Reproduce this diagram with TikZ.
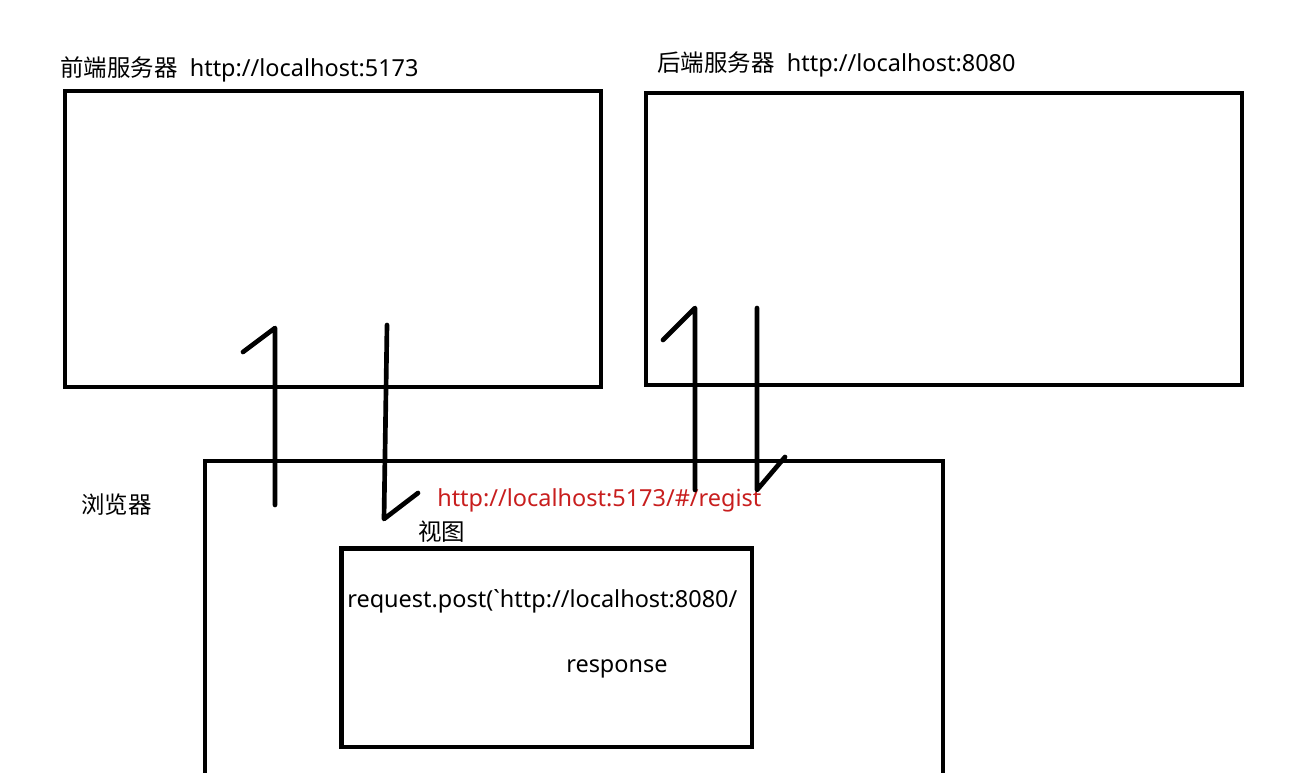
\documentclass[tikz,border=0pt]{standalone}
\usepackage{fontspec}
\setmainfont{Noto Sans}
\newfontfamily\cjk{Noto Sans CJK SC}
\begin{document}
\begin{tikzpicture}[x=0.75pt,y=-0.75pt,
    caja/.style={draw, line width=3.5pt, inner sep=0pt},
    trazo/.style={line width=3.5pt, line cap=round, line join=round},
    texto/.style={anchor=west, inner sep=0pt, font=\fontsize{17.6}{20}\selectfont}]
    \useasboundingbox (0,0) rectangle (1292,773);

    % Servidores
    \node[caja, minimum width=402pt, minimum height=222pt] (front) at (333,239) {};
    \node[caja, minimum width=447pt, minimum height=219pt] (back) at (944,239) {};
    \node[texto] (tfront) at (60,69) {{\cjk 前端服务器}\ \ http://localhost:5173};
    \node[texto] (tback) at (657,64) {{\cjk 后端服务器}\ \ http://localhost:8080};

    % Navegador y vista
    \draw[line width=3.5pt] (205,776) -- (205,461) -- (943,461) -- (943,776);
    \node[caja, minimum width=308pt, minimum height=149pt] (vista) at (546.5,647.5) {};
    \node[texto] (tnav) at (81,505) {\cjk 浏览器};
    \node[texto, text={rgb,255:red,200;green,30;blue,30}] (url) at (437,500) {http://localhost:5173/\#/regist};
    \node[texto] (tvista) at (418,532) {\cjk 视图};
    \node[texto] (req) at (347,601) {request.post(\textasciigrave http://localhost:8080/};
    \node[texto] (resp) at (566,669) {response};

    % Flechas
    \coordinate (a1) at (275,505);
    \coordinate (a2) at (275,328);
    \coordinate (b1) at (387,325);
    \coordinate (b2) at (384,519);
    \coordinate (c1) at (695,490);
    \coordinate (c2) at (695,308);
    \coordinate (d1) at (757,308);
    \coordinate (d2) at (757,490);
    \draw[trazo] (a1) -- (a2) -- ++(-32,24);
    \draw[trazo] (b1) -- (b2) -- ++(34,-26);
    \draw[trazo] (c1) -- (c2) -- ++(-32,32);
    \draw[trazo] (d1) -- (d2) -- ++(28,-33);
\end{tikzpicture}
\end{document}
